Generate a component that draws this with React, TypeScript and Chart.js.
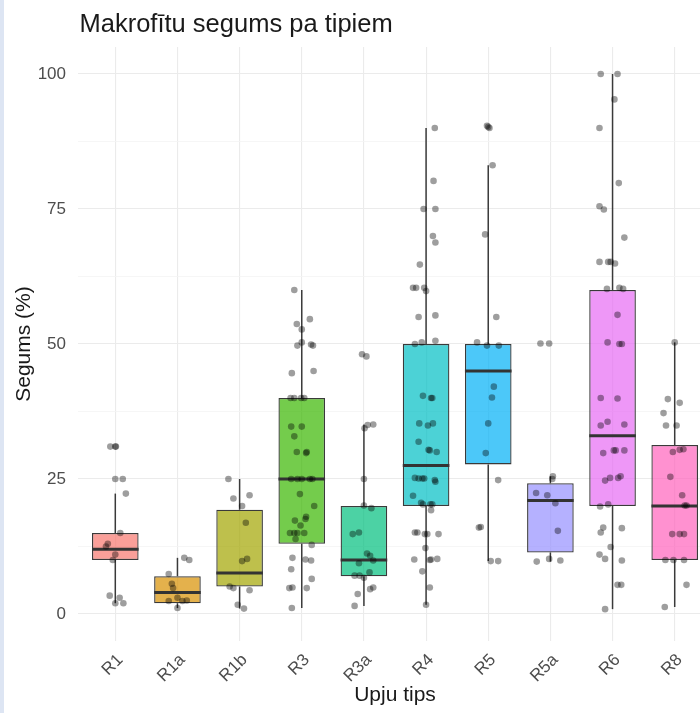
import React, { useEffect, useRef } from 'react';
import { Chart, registerables } from 'chart.js';

Chart.register(...registerables);

const chartTitle = 'Makrofītu segums pa tipiem';
const xTitle = 'Upju tips';
const yTitle = 'Segums (%)';

const categories = ['R1', 'R1a', 'R1b', 'R3', 'R3a', 'R4', 'R5', 'R5a', 'R6', 'R8'];
const boxColors = ['#F8766D', '#D89000', '#A3A500', '#39B600', '#00BF7D', '#00BFC4', '#00B0F6', '#9590FF', '#E76BF3', '#FF62BC'];

const whiskerLow = [2, 1.1, 1, 1.1, 1.5, 1.7, 9.8, 9.7, 0.9, 1.3];
const q1 = [10, 2, 5.1, 13, 7, 20, 27.7, 11.4, 20, 10];
const median = [12, 4, 7.6, 25, 10, 27.5, 45, 21, 33, 20];
const q3 = [15, 7, 19.3, 40, 20, 50, 50, 24.2, 60, 31.3];
const whiskerHigh = [22.3, 10.4, 25, 60, 35.1, 90, 83.1, 25.5, 100, 50.3];

const yTickValues = [0, 12.5, 25, 37.5, 50, 62.5, 75, 87.5, 100];

// observed values for each category (jittered points)
const pointValues: number[][] = [
  [31, 31, 31, 25, 25, 22.3, 15, 13, 12.5, 11, 10, 3.4, 3, 2, 2],
  [10.4, 10, 7.4, 5.6, 4.8, 3, 2.4, 2.4, 2.5, 1.1],
  [25, 21.4, 22, 20, 16.9, 9.8, 10.2, 5.1, 4.8, 4.4, 1.7, 1],
  [60, 53.7, 54.6, 52.7, 49.7, 50.3, 49.9, 49.7, 44.6, 45, 40, 40, 40, 40, 34.7, 34.7, 32.9, 30, 30, 29.8, 25, 25, 25, 25, 25, 22.2, 20, 17.3, 16.4, 18, 17.6, 15, 15, 15, 15, 13.9, 12.8, 10.4, 8.3, 10.1, 9.9, 6.5, 4.8, 4.9, 4.8, 1.1],
  [48.1, 47.7, 34.4, 35, 35.1, 25, 20.1, 19.6, 14.8, 15.1, 11.2, 10.8, 9.4, 9.9, 7.7, 7.1, 7.1, 6.7, 4.9, 4.6, 3.7, 1.5],
  [90, 80.2, 75, 75, 70, 68.8, 64.7, 60.4, 60.4, 60.4, 59.8, 55, 55.3, 50, 50.3, 50.6, 40.4, 40, 40, 35.3, 34.9, 35.3, 31.9, 30.4, 30.3, 30, 25.2, 25.1, 25.1, 25.1, 24.8, 24.5, 21.9, 20.6, 20.3, 20.3, 20.3, 19.2, 15.1, 15.1, 14.8, 14.8, 14.8, 12.2, 10.1, 10, 10.1, 10.2, 7.9, 4.9, 1.7],
  [90.4, 90, 90.2, 83.1, 70.3, 55, 50.3, 49.7, 49.7, 42.1, 40.1, 35.3, 29.8, 24.8, 16.1, 16, 9.8, 9.8],
  [50.1, 50.1, 25.5, 25, 22.4, 22, 20.5, 15.4, 9.7, 10.2, 9.9],
  [100, 100, 95.3, 90, 79.8, 75.5, 74.9, 69.7, 65.2, 65.2, 65.2, 64.9, 60.2, 60.4, 60.2, 55.4, 50.3, 50, 50, 40, 39.9, 34.9, 35.6, 35.1, 29.8, 30.3, 30.3, 30.3, 24.7, 25.2, 25.2, 25.5, 19.9, 20.3, 16, 15.9, 15.1, 12.4, 11, 10.2, 9.9, 5.4, 5.4, 0.9],
  [50.3, 39.8, 39.1, 37.2, 34.9, 34.9, 30, 30.4, 30.5, 25.4, 22, 20.1, 20.1, 14.8, 14.8, 14.8, 10, 10, 10, 5.4, 1.3],
];

// horizontal jitter of each point, in category units
const pointJitter: number[][] = [
  [-0.08, 0, 0.01, 0, 0.12, 0.17, 0.08, -0.12, -0.15, 0, -0.04, -0.09, 0.07, 0, 0.13],
  [0.11, 0.19, -0.14, -0.09, -0.07, 0, -0.14, 0.08, 0.15, 0],
  [-0.18, -0.1, 0.16, 0.04, 0.1, 0.04, 0.12, -0.16, -0.1, 0.16, -0.03, 0.07],
  [-0.12, -0.08, 0.13, 0, -0.07, 0, 0.15, 0.18, -0.16, 0.19, -0.18, -0.12, -0.01, 0.04, -0.17, 0, -0.12, -0.08, 0.08, 0.07, -0.17, -0.07, 0, 0.13, 0.17, -0.03, 0.2, -0.11, -0.02, 0.07, 0.06, -0.19, -0.12, -0.07, 0.04, -0.1, 0.16, -0.15, -0.17, 0.06, 0.15, 0.16, -0.2, -0.15, 0.08, -0.16],
  [-0.03, 0.04, 0.01, 0.06, 0.15, 0, 0, 0.12, -0.18, -0.08, 0.05, 0.1, -0.08, 0.15, 0.09, -0.15, -0.07, 0, 0.15, 0.1, -0.1, -0.15],
  [0.14, 0.12, -0.04, 0.15, 0.11, 0.15, -0.1, -0.21, -0.16, -0.03, 0, -0.12, 0.15, -0.18, -0.07, 0.15, -0.05, 0.1, 0.08, -0.11, 0.03, 0.11, -0.12, 0.04, 0.06, 0.17, -0.18, -0.12, -0.06, -0.03, 0.14, 0.15, -0.21, -0.08, -0.05, 0.07, 0.1, 0.08, -0.18, -0.14, -0.02, 0.02, 0.2, -0.01, -0.19, 0.06, 0.08, 0.18, -0.06, 0.06, 0],
  [-0.02, 0.02, 0, 0.07, -0.05, 0.13, -0.18, -0.02, 0.17, 0.09, 0.06, 0, -0.04, 0.16, -0.12, -0.15, 0.04, 0.16],
  [-0.16, -0.02, 0.04, 0.03, -0.23, -0.05, 0.08, 0.12, -0.22, -0.02, 0.16],
  [-0.19, 0.08, 0.03, -0.21, 0.1, -0.21, -0.14, 0.19, -0.21, -0.07, -0.03, 0.04, -0.09, 0.11, 0.17, 0.08, -0.08, 0.11, 0.15, -0.19, 0.08, -0.19, -0.08, 0.19, -0.15, 0.02, 0.05, 0.19, -0.12, -0.04, 0.09, 0.13, -0.2, -0.07, -0.15, 0.15, -0.19, -0.03, -0.21, -0.12, 0.15, 0.08, 0.14, -0.12],
  [0, -0.11, 0.08, -0.18, -0.14, 0.03, -0.03, 0.08, 0.14, -0.07, 0.12, 0.16, 0.19, -0.04, 0.08, 0.15, -0.15, -0.02, 0.15, 0.19, -0.16],
];

const FONT = '"Liberation Sans", Arial, Helvetica, sans-serif';

function withAlpha(hex: string, a: number): string {
  const r = parseInt(hex.slice(1, 3), 16);
  const g = parseInt(hex.slice(3, 5), 16);
  const b = parseInt(hex.slice(5, 7), 16);
  return `rgba(${r},${g},${b},${a})`;
}

const titlePlugin = {
  id: 'plotTitle',
  afterDraw(chart: any) {
    const ctx = chart.ctx;
    ctx.save();
    ctx.font = `25.5px ${FONT}`;
    ctx.fillStyle = '#1a1a1a';
    ctx.textAlign = 'left';
    ctx.textBaseline = 'alphabetic';
    ctx.fillText(chartTitle, chart.chartArea.left + 1.5, 31.5);
    ctx.restore();
  },
};

export default function App() {
  const canvasRef = useRef<HTMLCanvasElement | null>(null);

  useEffect(() => {
    if (!canvasRef.current) return;
    const idx = categories.map((_, i) => i);
    const points = categories.flatMap((_, i) =>
      pointValues[i].map((v, k) => ({ x: i + pointJitter[i][k], y: v }))
    );

    const chart = new Chart(canvasRef.current, {
      type: 'bar',
      data: {
        datasets: [
          {
            type: 'bar',
            label: 'lower whisker',
            data: idx.map((i) => ({ x: i, y: [whiskerLow[i], q1[i]] })) as any,
            backgroundColor: '#3a3a3a',
            borderWidth: 0,
            maxBarThickness: 1.5,
            grouped: false,
            order: 5,
          } as any,
          {
            type: 'bar',
            label: 'upper whisker',
            data: idx.map((i) => ({ x: i, y: [q3[i], whiskerHigh[i]] })) as any,
            backgroundColor: '#3a3a3a',
            borderWidth: 0,
            maxBarThickness: 1.5,
            grouped: false,
            order: 4,
          } as any,
          {
            type: 'bar',
            label: 'box',
            data: idx.map((i) => ({ x: i, y: [q1[i], q3[i]] })) as any,
            backgroundColor: boxColors.map((c) => withAlpha(c, 0.7)),
            borderColor: '#3a3a3a',
            borderWidth: 1.3,
            borderSkipped: false,
            barPercentage: 0.75,
            categoryPercentage: 1,
            grouped: false,
            order: 3,
          } as any,
          {
            type: 'scatter',
            label: 'median',
            data: idx.map((i) => ({ x: i, y: median[i] })),
            pointStyle: 'line',
            pointRadius: 23.3,
            pointHoverRadius: 23.3,
            borderColor: '#333333',
            borderWidth: 3,
            pointBorderWidth: 3,
            showLine: false,
            order: 2,
          } as any,
          {
            type: 'scatter',
            label: 'points',
            data: points,
            pointStyle: 'circle',
            pointRadius: 3.3,
            pointBackgroundColor: 'rgba(0,0,0,0.38)',
            backgroundColor: 'rgba(0,0,0,0.38)',
            pointBorderWidth: 0,
            borderWidth: 0,
            showLine: false,
            order: 1,
          } as any,
        ],
      },
      options: {
        responsive: false,
        animation: false,
        devicePixelRatio: 1,
        layout: { autoPadding: false, padding: { top: 47, left: 0, right: 0, bottom: 0 } },
        plugins: {
          legend: { display: false },
          title: { display: false },
          tooltip: { enabled: false },
        },
        scales: {
          x: {
            type: 'linear',
            min: -0.6,
            max: 9.6,
            offset: false,
            afterBuildTicks: (scale: any) => {
              scale.ticks = categories.map((_, i) => ({ value: i }));
            },
            afterFit: (scale: any) => {
              scale.height = 72;
              scale.paddingLeft = 0;
              scale.paddingRight = 0;
            },
            grid: { color: '#ebebeb', lineWidth: 1.1, drawTicks: false, offset: false },
            border: { display: false },
            ticks: {
              autoSkip: false,
              minRotation: 45,
              maxRotation: 45,
              padding: 9,
              labelOffset: 5,
              color: '#4d4d4d',
              font: { family: FONT, size: 17 },
              callback: (v: any) => categories[Math.round(Number(v))] ?? '',
            },
            title: {
              display: true,
              text: xTitle,
              color: '#1a1a1a',
              font: { family: FONT, size: 21 },
              padding: { top: 0, bottom: 5.5 },
            },
          },
          y: {
            type: 'linear',
            min: -5,
            max: 105,
            afterBuildTicks: (scale: any) => {
              scale.ticks = yTickValues.map((v) => ({ value: v }));
            },
            afterFit: (scale: any) => {
              scale.width = 78;
              scale.paddingTop = 0;
              scale.paddingBottom = 0;
            },
            grid: {
              drawTicks: false,
              color: (c: any) => (c.tick && c.tick.value % 25 === 0 ? '#ebebeb' : '#f4f4f4'),
              lineWidth: (c: any) => (c.tick && c.tick.value % 25 === 0 ? 1.1 : 0.8),
            },
            border: { display: false },
            ticks: {
              padding: 12,
              color: '#4d4d4d',
              font: { family: FONT, size: 17 },
              callback: (v: any) => (Number(v) % 25 === 0 ? String(v) : ''),
            },
            title: {
              display: true,
              text: yTitle,
              color: '#1a1a1a',
              font: { family: FONT, size: 21 },
              padding: { top: 11.4, bottom: 0 },
            },
          },
        },
      } as any,
      plugins: [titlePlugin],
    });

    return () => chart.destroy();
  }, []);

  return (
    <div
      style={{
        position: 'absolute',
        left: 0,
        top: 0,
        width: 700,
        height: 713,
        overflow: 'hidden',
        background: '#ffffff',
      }}
    >
      <canvas ref={canvasRef} width={712} height={713} style={{ display: 'block', width: 712, height: 713 }} />
      <div style={{ position: 'absolute', left: 0, top: 0, width: 4, height: 713, background: '#dde5f3' }} />
    </div>
  );
}
